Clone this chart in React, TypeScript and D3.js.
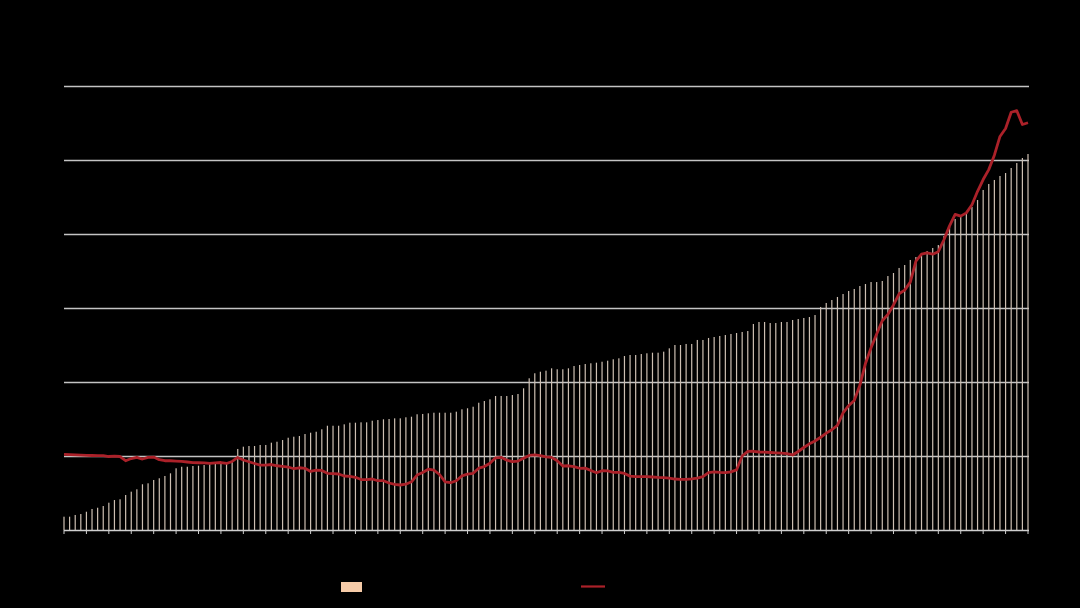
import React, { useEffect } from "react";
import * as d3 from "d3";

// Bar series (one per quarter, 173 quarters)
const barValues: number[] = [
  18.0, 18.0, 20.3, 21.6, 24.7, 28.4, 30.1, 32.4, 36.9, 40.5,
  41.5, 47.3, 51.8, 55.0, 61.8, 63.1, 67.6, 69.9, 73.0, 76.6,
  83.4, 85.5, 85.5, 86.5, 86.9, 87.8, 88.8, 89.2, 90.1, 90.9,
  92.3, 109.5, 112.6, 113.5, 113.5, 114.9, 114.9, 118.0, 119.3, 121.6,
  124.7, 126.1, 127.0, 129.7, 131.5, 132.8, 136.1, 140.9, 140.9, 140.9,
  142.8, 145.0, 145.0, 145.5, 145.5, 147.7, 148.6, 149.6, 150.0, 150.9,
  150.9, 152.3, 153.1, 156.4, 156.8, 157.7, 158.5, 158.5, 158.5, 158.5,
  159.9, 163.1, 164.5, 166.6, 172.0, 174.3, 176.6, 181.1, 181.1, 181.1,
  182.4, 183.8, 191.5, 205.0, 211.8, 213.9, 215.3, 218.5, 217.2, 217.2,
  218.5, 221.6, 223.0, 224.3, 225.3, 226.1, 227.4, 228.8, 230.7, 232.0,
  235.1, 236.5, 236.5, 237.8, 238.8, 239.6, 239.6, 241.0, 245.5, 250.0,
  250.0, 251.4, 251.4, 256.8, 256.8, 259.5, 260.8, 262.2, 263.5, 264.9,
  266.2, 267.6, 268.9, 278.4, 281.1, 281.1, 279.7, 279.7, 281.1, 281.1,
  283.8, 285.1, 286.5, 287.8, 290.5, 301.4, 306.8, 310.8, 314.9, 318.9,
  323.0, 325.7, 329.7, 332.4, 335.1, 335.1, 336.5, 343.2, 347.3, 354.1,
  358.1, 364.9, 368.9, 371.6, 377.0, 381.1, 385.1, 397.3, 409.5, 420.3,
  425.7, 428.4, 436.5, 445.9, 459.5, 467.6, 473.0, 478.4, 482.4, 489.2,
  495.9, 502.7, 508.1,
];

// Line series (one per quarter)
const lineValues: number[] = [
  102.3, 101.8, 101.4, 101.1, 100.9, 100.7, 100.5, 100.4, 99.3, 99.7,
  99.3, 93.6, 96.6, 98.1, 95.9, 98.2, 98.6, 95.0, 93.6, 93.6,
  93.2, 92.6, 91.9, 91.1, 90.9, 90.8, 90.1, 90.8, 91.2, 89.9,
  92.6, 98.0, 94.6, 92.2, 89.9, 87.6, 87.8, 88.5, 86.8, 86.1,
  85.1, 82.8, 84.1, 83.4, 79.1, 80.8, 80.5, 76.6, 76.1, 75.7,
  73.0, 72.4, 71.2, 68.2, 68.2, 68.9, 66.6, 66.6, 63.5, 61.6,
  60.8, 61.9, 65.1, 74.2, 77.7, 82.2, 80.8, 75.0, 65.1, 63.9,
  66.6, 73.1, 75.4, 76.6, 83.5, 85.7, 90.1, 97.6, 98.2, 94.3,
  92.3, 93.2, 97.0, 100.8, 101.4, 100.4, 98.9, 98.2, 93.5, 86.5,
  86.8, 85.7, 83.4, 83.6, 80.4, 77.3, 80.1, 79.9, 78.0, 77.8,
  76.4, 72.8, 72.2, 72.0, 72.0, 71.6, 71.1, 70.8, 70.1, 68.9,
  68.5, 68.5, 69.2, 70.1, 72.0, 77.6, 78.6, 77.8, 77.4, 78.6,
  81.2, 100.0, 106.2, 106.4, 105.4, 105.1, 104.7, 104.3, 103.9, 103.1,
  101.4, 106.1, 111.5, 116.4, 120.3, 125.3, 130.9, 135.5, 141.4, 158.2,
  168.0, 174.9, 195.5, 225.1, 246.2, 264.9, 282.7, 291.2, 304.1, 319.2,
  324.2, 335.0, 363.2, 372.8, 374.5, 372.7, 376.1, 392.2, 411.0, 426.4,
  424.1, 428.6, 439.6, 457.7, 473.6, 487.0, 506.5, 531.8, 542.6, 564.5,
  566.6, 548.0, 550.3,
];

const yTicks: number[] = [0, 100, 200, 300, 400, 500, 600];

const W = 1080;
const H = 608;
const X0 = 64;
const X1 = 1028;
const Y0 = 530;
const Y1 = 86;

export default function App() {
  useEffect(() => {
    document.body.style.margin = "0";
    document.body.style.background = "#000";
  }, []);

  const idx = barValues.map((_, i) => i);
  const x = d3.scaleLinear().domain([0, barValues.length - 1]).range([X0, X1]);
  const y = d3.scaleLinear().domain([0, 600]).range([Y0, Y1]);

  const line = d3
    .line<number>()
    .x((_, i) => x(i))
    .y((d) => y(d))
    .curve(d3.curveLinear);

  const tickIdx = idx.filter((i) => i % 4 === 0);

  return (
    <svg width={W} height={H} style={{ display: "block", background: "#000" }}>
      <rect x={0} y={0} width={W} height={H} fill="#000" />
      {/* gridlines */}
      {yTicks.slice(1).map((t) => (
        <line
          key={t}
          x1={X0}
          x2={X1 + 1}
          y1={y(t) + 0.5}
          y2={y(t) + 0.5}
          stroke="#c4c4c4"
          strokeWidth={1.3}
        />
      ))}
      {/* bars */}
      {barValues.map((v, i) => (
        <rect
          key={i}
          x={x(i) - 0.6}
          y={y(v)}
          width={1.2}
          height={Y0 - y(v)}
          fill="#cdbfb2"
        />
      ))}
      {/* baseline + ticks */}
      <line x1={X0} x2={X1 + 1} y1={Y0 + 0.5} y2={Y0 + 0.5} stroke="#cfcfcf" strokeWidth={1.3} />
      {tickIdx.map((i) => (
        <line
          key={i}
          x1={x(i)}
          x2={x(i)}
          y1={Y0}
          y2={Y0 + 4}
          stroke="#cfcfcf"
          strokeWidth={1}
        />
      ))}
      {/* line */}
      <path d={line(lineValues) || ""} fill="none" stroke="#ab2129" strokeWidth={2.8} strokeLinejoin="round" />
      {/* legend */}
      <rect x={341} y={582} width={21} height={10} fill="#f6cba8" />
      <line x1={581} x2={605} y1={586.5} y2={586.5} stroke="#ab2129" strokeWidth={2.2} />
    </svg>
  );
}
